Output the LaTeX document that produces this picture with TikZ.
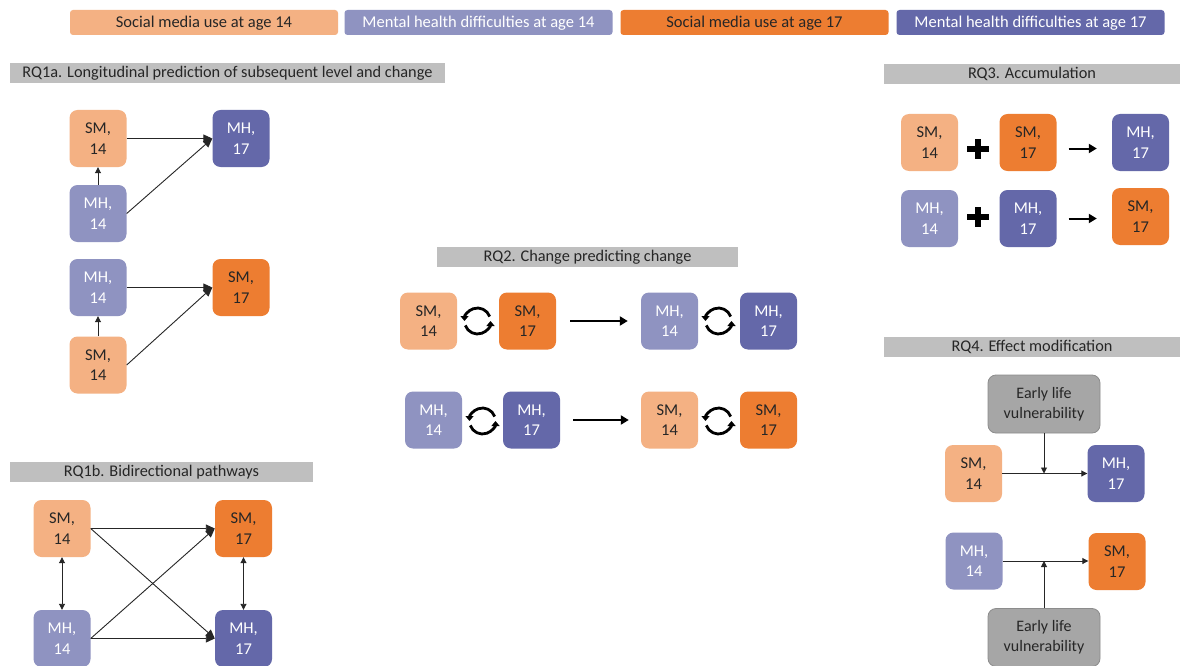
\documentclass[tikz,border=0pt]{standalone}
\usepackage{fontspec}
\setmainfont{Carlito}
\usetikzlibrary{arrows.meta}
\definecolor{smA}{HTML}{F4B183}
\definecolor{smB}{HTML}{ED7D31}
\definecolor{mhA}{HTML}{8F93C1}
\definecolor{mhB}{HTML}{6468A9}
\definecolor{hdrc}{HTML}{BFBFBF}
\definecolor{vul}{HTML}{A6A6A6}
\definecolor{vulb}{HTML}{8C8C8C}
\definecolor{ink}{HTML}{262626}
\tikzset{
 box/.style={rounded corners=8pt, minimum width=57pt, minimum height=57pt, inner sep=0pt, align=center, font=\fontsize{16.5}{20.5}\selectfont},
 sma/.style={box, fill=smA, text=ink},
 smb/.style={box, fill=smB, text=ink},
 mha/.style={box, fill=mhA, text=white},
 mhb/.style={box, fill=mhB, text=white},
 vbox/.style={rounded corners=8pt, minimum width=112pt, minimum height=58pt, inner sep=0pt, align=center, fill=vul, draw=vulb, line width=0.8pt, text=ink, font=\fontsize{16}{20}\selectfont},
 leg/.style={rounded corners=3pt, minimum width=268pt, minimum height=25pt, inner sep=0pt, text depth=1.5pt, font=\fontsize{16.5}{18}\selectfont},
 hdr/.style={fill=hdrc, minimum height=20pt, inner sep=0pt, text depth=1.5pt, font=\fontsize{16.3}{18}\selectfont, text=ink},
 arr/.style={-{Triangle[length=9pt,width=8pt]}, line width=0.9pt, draw=ink},
 sarr/.style={-{Triangle[length=6pt,width=6pt]}, line width=0.9pt, draw=ink},
 darr/.style={{Triangle[length=6pt,width=6pt]}-{Triangle[length=6pt,width=6pt]}, line width=0.9pt, draw=ink},
 bigarr/.style={-{Triangle[length=8pt,width=9pt]}, line width=2.4pt, draw=black},
 cyc/.pic={
   \draw[line width=2.8pt, -{Triangle[length=5pt,width=8pt]}] (-20:13) arc[start angle=-20, end angle=-180, radius=13];
   \draw[line width=2.8pt, -{Triangle[length=5pt,width=8pt]}] (160:13) arc[start angle=160, end angle=0, radius=13];
 },
 plus/.pic={
   \fill[black] (-11,-3) rectangle (11,3);
   \fill[black] (-3,-10) rectangle (3,10);
 }
}
\begin{document}
\begin{tikzpicture}[x=1pt,y=-1pt]
\useasboundingbox[fill=white] (0,0) rectangle (1180,666);

% legend
\node[leg, fill=smA, text=ink] (l1) at (204,22.5) {Social media use at age 14};
\node[leg, fill=mhA, text=white] (l2) at (478.5,22.5) {Mental health difficulties at age 14};
\node[leg, fill=smB, text=ink] (l3) at (754.5,22.5) {Social media use at age 17};
\node[leg, fill=mhB, text=white] (l4) at (1030.5,22.5) {Mental health difficulties at age 17};

% headers
\node[hdr, minimum width=435pt] (h1a) at (227.5,73) {RQ1a. Longitudinal prediction of subsequent level and change};
\node[hdr, minimum width=296pt] (h3) at (1032,74) {RQ3. Accumulation};
\node[hdr, minimum width=301pt] (h2) at (587.5,257) {RQ2. Change predicting change};
\node[hdr, minimum width=296pt] (h4) at (1032,346.5) {RQ4. Effect modification};
\node[hdr, minimum width=303pt] (h1b) at (161.5,471.5) {RQ1b. Bidirectional pathways};

% RQ1a
\node[sma] (a1) at (98,138.5) {SM,\\14};
\node[mhb] (a2) at (241,138.5) {MH,\\17};
\node[mha] (a3) at (98,213.5) {MH,\\14};
\draw[arr] (a1.east) -- (a2.west);
\draw[arr] (a3.east) -- (a2.west);
\draw[sarr] (a3.north) -- (a1.south);

\node[mha] (a4) at (98,287.5) {MH,\\14};
\node[smb] (a5) at (241,287.5) {SM,\\17};
\node[sma] (a6) at (98,365) {SM,\\14};
\draw[arr] (a4.east) -- (a5.west);
\draw[arr] (a6.east) -- (a5.west);
\draw[sarr] (a6.north) -- (a4.south);

% RQ1b
\node[sma] (b1) at (62,528.5) {SM,\\14};
\node[smb] (b2) at (243.5,528.5) {SM,\\17};
\node[mha] (b3) at (62,638.5) {MH,\\14};
\node[mhb] (b4) at (243.5,638.5) {MH,\\17};
\draw[arr] (b1.east) -- (b2.west);
\draw[arr] (b1.east) -- (b4.west);
\draw[arr] (b3.east) -- (b2.west);
\draw[arr] (b3.east) -- (b4.west);
\draw[darr] (b1.south) -- (b3.north);
\draw[darr] (b2.south) -- (b4.north);

% RQ2
\node[sma] (c1) at (428.5,321) {SM,\\14};
\node[smb] (c2) at (527.5,321) {SM,\\17};
\node[mha] (c3) at (669.5,321) {MH,\\14};
\node[mhb] (c4) at (768.5,321) {MH,\\17};
\pic at (477.5,321) {cyc};
\pic at (718.5,321) {cyc};
\draw[bigarr, shorten <=14pt, shorten >=13pt] (c2.east) -- (c3.west);

\node[mha] (d1) at (433.5,420) {MH,\\14};
\node[mhb] (d2) at (531.5,420) {MH,\\17};
\node[sma] (d3) at (669.5,420) {SM,\\14};
\node[smb] (d4) at (768.5,420) {SM,\\17};
\pic at (482.5,421) {cyc};
\pic at (718.5,421) {cyc};
\draw[bigarr, shorten <=13pt, shorten >=12pt] (d2.east) -- (d3.west);

% RQ3
\node[sma] (e1) at (929.5,142.5) {SM,\\14};
\node[smb] (e2) at (1028,142.5) {SM,\\17};
\node[mhb] (e3) at (1140.5,142.5) {MH,\\17};
\pic at (978,149) {plus};
\draw[bigarr, line width=2pt, shorten <=12pt, shorten >=15pt] (e2.east) ++(0,6) coordinate (e2o) -- (e3.west |- e2o);

\node[mha] (f1) at (929.5,218.5) {MH,\\14};
\node[mhb] (f2) at (1028,218.5) {MH,\\17};
\node[smb] (f3) at (1140.5,216.5) {SM,\\17};
\pic at (978,217) {plus};
\draw[bigarr, line width=2pt, shorten <=12pt, shorten >=15pt] (f2.east) -- (f3.west |- f2.east);

% RQ4
\node[vbox] (g0) at (1044,404) {Early life\\vulnerability};
\node[sma] (g1) at (973.5,473.5) {SM,\\14};
\node[mhb] (g2) at (1116,473.5) {MH,\\17};
\draw[sarr] (g1.east) -- (g2.west);
\coordinate (g3) at (g0.south |- g1.east);
\draw[sarr] (g0.south) -- (g3);

\node[mha] (k1) at (974,561) {MH,\\14};
\node[smb] (k2) at (1117,561.5) {SM,\\17};
\node[vbox] (k0) at (1044,637.5) {Early life\\vulnerability};
\draw[sarr] (k1.east) -- (k2.west |- k1.east);
\coordinate (k3) at (k0.north |- k1.east);
\draw[sarr] (k0.north) -- (k3);
\end{tikzpicture}
\end{document}
